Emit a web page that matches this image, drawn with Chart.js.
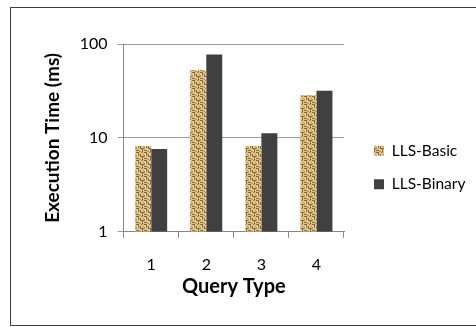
<!DOCTYPE html>
<html lang="en">
<head>
<meta charset="utf-8">
<title>Execution Time</title>
<script src="https://cdn.jsdelivr.net/npm/chart.js@4.4.0/dist/chart.umd.min.js"></script>
<style>
  body { margin:0; background:#fff; }
  #frame { position:absolute; left:10px; top:7px; width:480px; height:317px; border:1px solid #404040; }
  #wrap { position:absolute; left:0; top:0; width:476px; height:327px; }
</style>
</head>
<body>
<div id="frame"></div>
<div id="wrap"><canvas id="graph" width="476" height="327"></canvas></div>
<script>
var queryTypes = ["1", "2", "3", "4"];
var basicTimes = [8.2, 52.5, 8.2, 28.5];
var binaryTimes = [7.6, 77.5, 11.2, 31.7];
var yTicks = [1, 10, 100];

// woven tan texture for LLS-Basic
function makeWeave() {
  var c = document.createElement("canvas");
  c.width = 8; c.height = 8;
  var g = c.getContext("2d");
  g.fillStyle = "#dfc58a";
  g.fillRect(0, 0, 8, 8);
  g.fillStyle = "#8a6a38";
  g.fillRect(0, 0, 3, 1);
  g.fillRect(2, 1, 1, 3);
  g.fillRect(4, 2, 1, 3);
  g.fillRect(4, 4, 4, 1);
  g.fillRect(6, 5, 1, 3);
  g.fillRect(0, 6, 3, 1);
  g.fillStyle = "#b39255";
  g.fillRect(5, 0, 2, 1);
  g.fillRect(0, 3, 1, 2);
  g.fillRect(3, 7, 2, 1);
  g.fillRect(7, 2, 1, 1);
  g.fillStyle = "#f3e3b8";
  g.fillRect(1, 2, 1, 2);
  g.fillRect(5, 6, 1, 1);
  return g.createPattern(c, "repeat");
}

var ctx = document.getElementById("graph").getContext("2d");
var weave = makeWeave();

// legend is wider than chart.js allows by default, and sits a bit away from the plot
var legendTweak = {
  id: "legendTweak",
  beforeLayout: function (chart) {
    var lg = chart.legend;
    if (lg && !lg._wide) {
      var fit = lg.fit;
      lg.fit = function () { fit.call(this); this.width = 132; };
      lg._wide = true;
    }
  },
  afterLayout: function (chart) {
    var lg = chart.legend;
    if (lg) {
      lg.left += 12; lg.right += 12;
      lg.top -= 4; lg.bottom -= 4;
    }
  }
};

new Chart(ctx, {
  type: "bar",
  data: {
    labels: queryTypes,
    datasets: [
      { label: "LLS-Basic", data: basicTimes, backgroundColor: weave,
        barPercentage: 1, categoryPercentage: 0.58 },
      { label: "LLS-Binary", data: binaryTimes, backgroundColor: "#404040",
        barPercentage: 1, categoryPercentage: 0.58 }
    ]
  },
  plugins: [legendTweak],
  options: {
    responsive: false,
    animation: false,
    layout: { padding: { left: 41, right: 0, top: 44, bottom: 28 } },
    plugins: {
      tooltip: { enabled: false },
      legend: {
        position: "right",
        labels: {
          boxWidth: 10, boxHeight: 10, padding: 18,
          color: "#000",
          font: { family: "Lato", size: 15.5 }
        }
      }
    },
    scales: {
      x: {
        grid: { display: true, drawOnChartArea: false, offset: true, color: "#868686", tickLength: 6 },
        border: { color: "#868686" },
        ticks: { color: "#000", font: { family: "Lato", size: 16 }, padding: 17 },
        title: { display: true, text: "Query Type", color: "#000",
                 font: { family: "Lato", size: 20, weight: "bold" }, padding: { top: -16, bottom: 0 } }
      },
      y: {
        type: "logarithmic",
        min: 1, max: 100,
        afterBuildTicks: function (axis) {
          axis.ticks = yTicks.map(function (v) { return { value: v }; });
        },
        grid: { color: "#9a9a9a", tickLength: 6 },
        border: { color: "#868686" },
        ticks: { color: "#000", font: { family: "Lato", size: 16 }, padding: 10,
                 callback: function (v) { return String(v); } },
        title: { display: true, text: "Execution Time (ms)", color: "#000",
                 font: { family: "Lato", size: 19, weight: "bold" }, padding: { top: 0, bottom: 6 } }
      }
    }
  }
});
</script>
</body>
</html>
